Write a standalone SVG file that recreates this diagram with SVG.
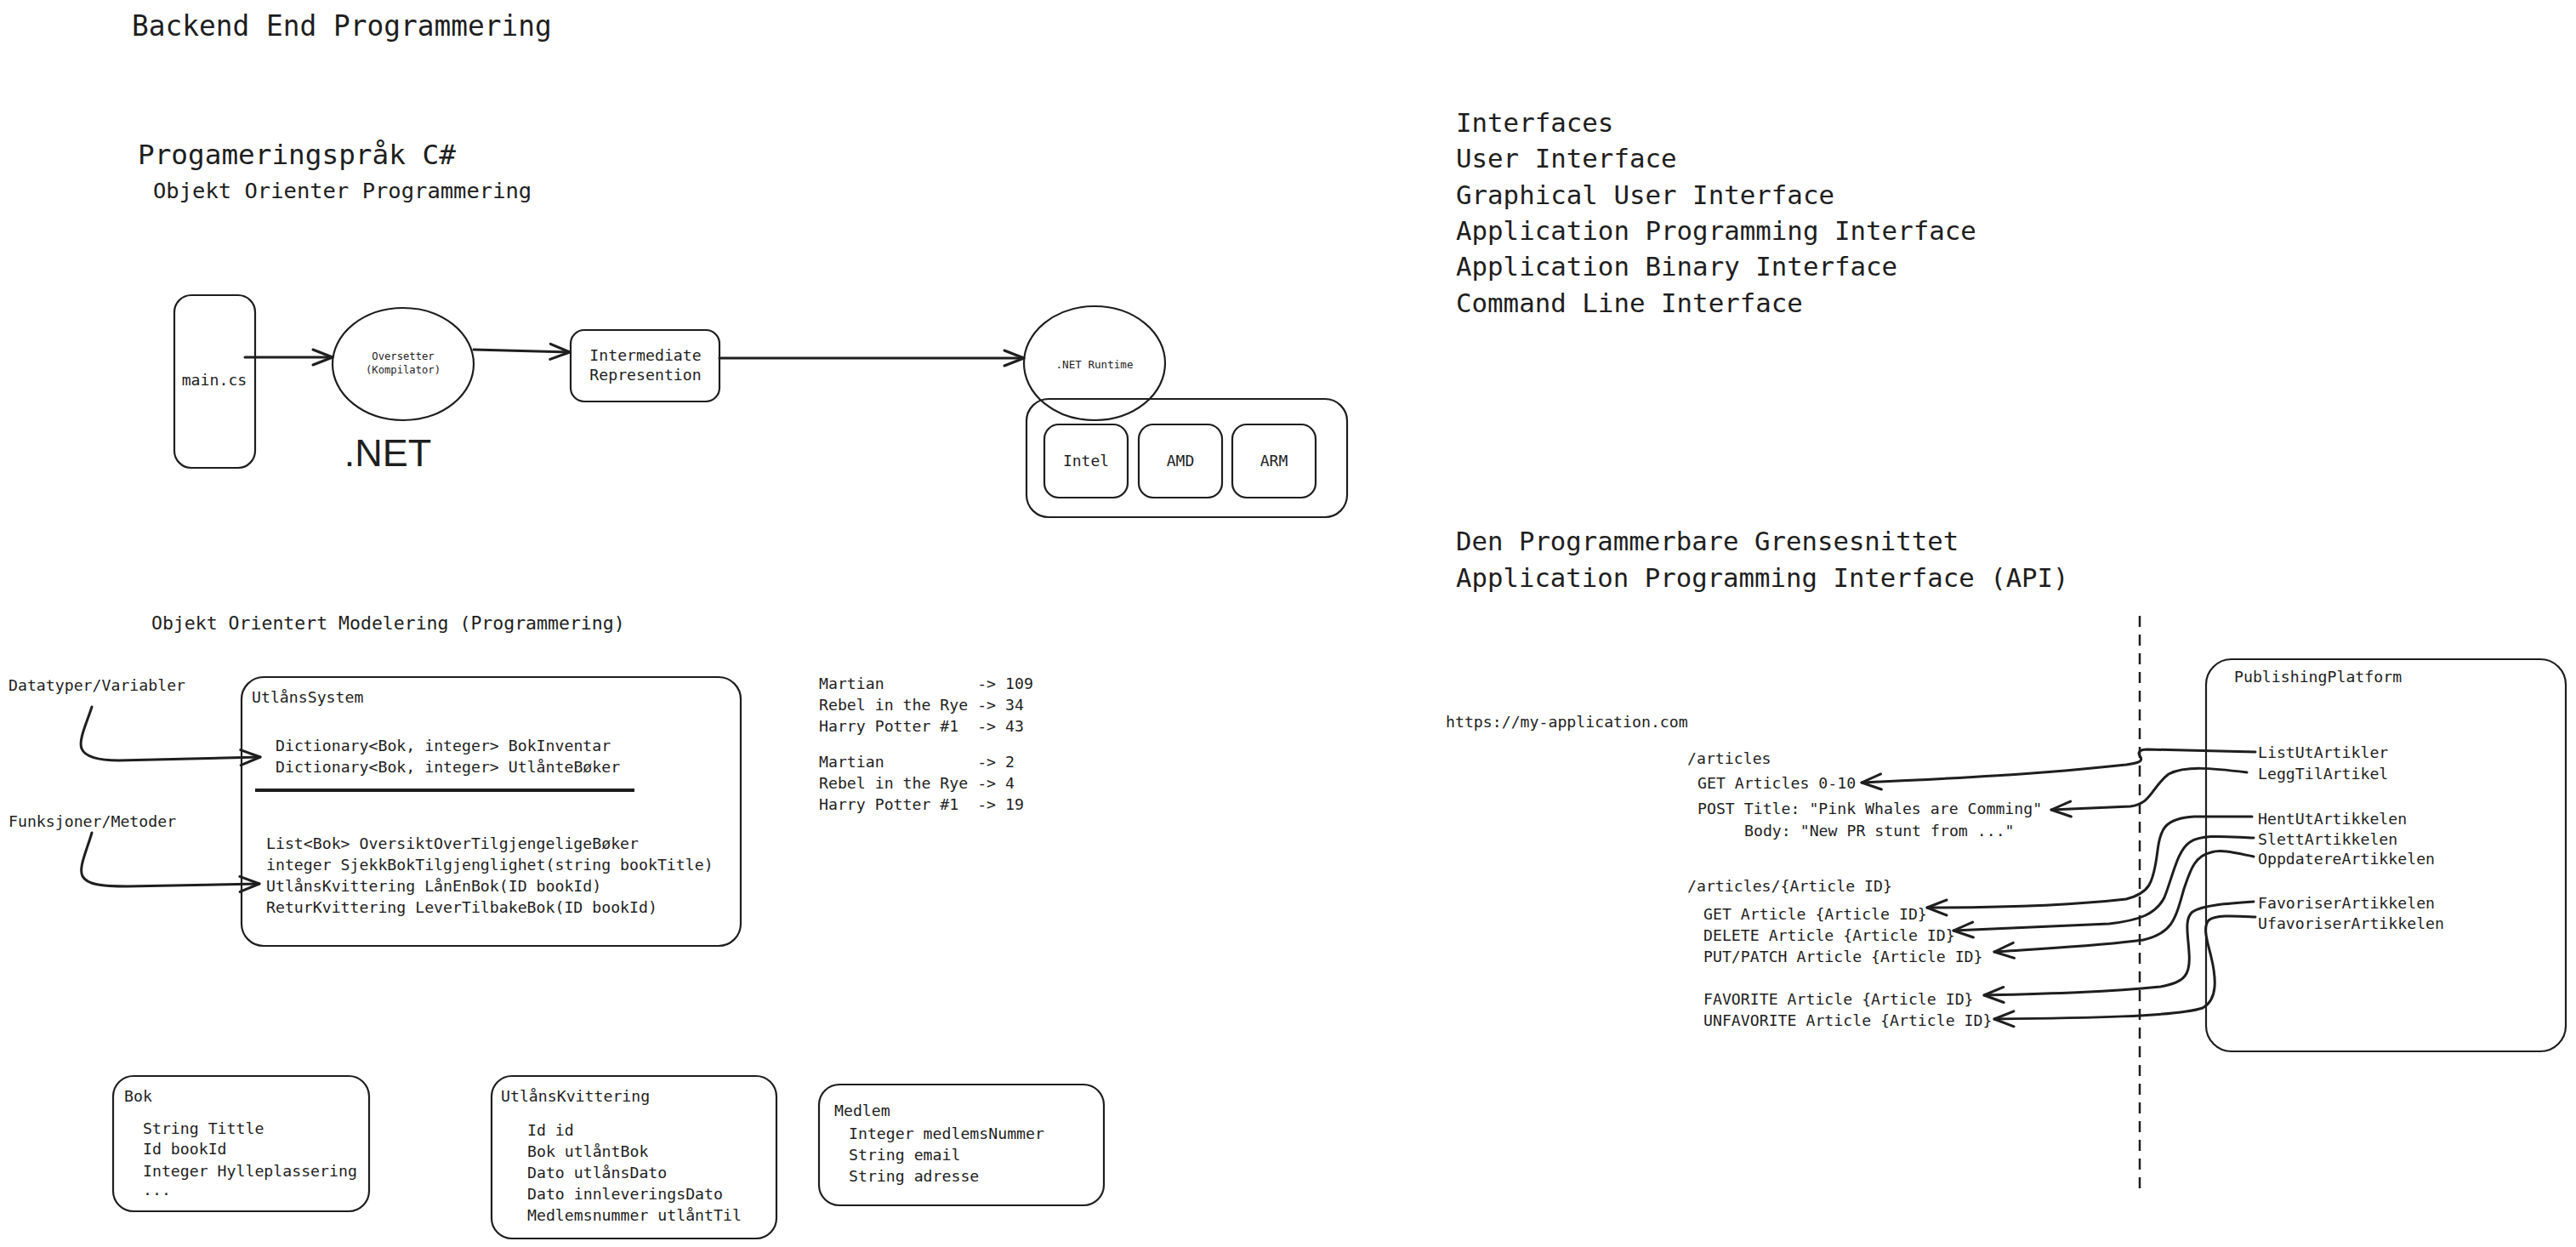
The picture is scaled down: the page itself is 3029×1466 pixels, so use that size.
<svg xmlns="http://www.w3.org/2000/svg" width="3029" height="1466" viewBox="0 0 3029 1466">
<style>
.t{font-family:"DejaVu Sans Mono","Liberation Mono",monospace;fill:#1e1e1e}
.s18{font-size:18.2px}
.box{fill:none;stroke:#1e1e1e;stroke-width:2.2}
.con{fill:none;stroke:#1e1e1e;stroke-width:3;stroke-linecap:round;stroke-linejoin:round}
.dash{fill:none;stroke:#1e1e1e;stroke-width:2.5;stroke-dasharray:13 9}
.mid{text-anchor:middle}
</style>
<defs>
<marker id="ah" markerUnits="userSpaceOnUse" markerWidth="40" markerHeight="40" refX="0" refY="0" viewBox="-30 -20 40 40" orient="auto" overflow="visible">
<path d="M-23,-9 L0,0 L-23,9" fill="none" stroke="#1e1e1e" stroke-width="3" stroke-linecap="round" stroke-linejoin="round"/>
</marker>
</defs>
<rect width="3029" height="1466" fill="#ffffff"/>

<g id="titles">
<text class="t" x="155" y="42" font-size="32.8">Backend End Programmering</text>
<text class="t" x="162" y="193" font-size="32.7">Progameringspråk C#</text>
<text class="t" x="180" y="233" font-size="25.5">Objekt Orienter Programmering</text>
<text class="t" x="178" y="740" font-size="21.5">Objekt Orientert Modelering (Programmering)</text>
<text class="t" x="10" y="812" font-size="18.2">Datatyper/Variabler</text>
<text class="t" x="10" y="972" font-size="18.2">Funksjoner/Metoder</text>
</g>

<g id="interfaces">
<text class="t" x="1712" y="155" font-size="30.8">Interfaces</text>
<text class="t" x="1712" y="197" font-size="30.8">User Interface</text>
<text class="t" x="1712" y="240" font-size="30.8">Graphical User Interface</text>
<text class="t" x="1712" y="282" font-size="30.8">Application Programming Interface</text>
<text class="t" x="1712" y="324" font-size="30.8">Application Binary Interface</text>
<text class="t" x="1712" y="367" font-size="30.8">Command Line Interface</text>
<text class="t" x="1712" y="647" font-size="30.7">Den Programmerbare Grensesnittet</text>
<text class="t" x="1712" y="690" font-size="30.7">Application Programming Interface (API)</text>
</g>

<g id="main-cs">
<rect class="box" x="205" y="347" width="95" height="203" rx="20"/>
<text class="t s18 mid" x="252" y="453">main.cs</text>
</g>
<g id="oversetter">
<ellipse class="box" cx="474" cy="428" rx="83" ry="66"/>
<text class="t mid" x="474" y="423" font-size="12.2">Oversetter</text>
<text class="t mid" x="474" y="439" font-size="12.2">(Kompilator)</text>
</g>
<g id="dotnet-label">
<text x="456" y="548" font-family="Liberation Sans, Arial, sans-serif" font-size="45" fill="#1e1e1e" text-anchor="middle">.NET</text>
</g>
<g id="intermediate">
<rect class="box" x="671" y="388" width="175" height="84" rx="16"/>
<text class="t s18 mid" x="759" y="424">Intermediate</text>
<text class="t s18 mid" x="759" y="447">Represention</text>
</g>
<g id="runtime">
<ellipse class="box" cx="1287" cy="427" rx="83" ry="67"/>
<text class="t mid" x="1287" y="433" font-size="12.6">.NET Runtime</text>
</g>
<g id="cpu-container">
<rect class="box" x="1207" y="469" width="377" height="139" rx="26"/>
</g>
<g id="intel">
<rect class="box" x="1228" y="499" width="98" height="86" rx="17"/>
<text class="t mid" x="1277" y="548" font-size="18">Intel</text>
</g>
<g id="amd">
<rect class="box" x="1339" y="499" width="98" height="86" rx="17"/>
<text class="t mid" x="1388" y="548" font-size="18">AMD</text>
</g>
<g id="arm">
<rect class="box" x="1449" y="499" width="98" height="86" rx="17"/>
<text class="t mid" x="1498" y="548" font-size="18">ARM</text>
</g>

<g id="utlanssystem">
<rect class="box" x="284" y="796" width="587" height="316" rx="26"/>
<text class="t s18" x="296" y="826">UtlånsSystem</text>
<text class="t s18" x="324" y="883">Dictionary&lt;Bok, integer&gt; BokInventar</text>
<text class="t s18" x="324" y="908">Dictionary&lt;Bok, integer&gt; UtlånteBøker</text>
<line x1="300" y1="929" x2="746" y2="929" stroke="#1e1e1e" stroke-width="4"/>
<text class="t s18" x="313" y="998">List&lt;Bok&gt; OversiktOverTilgjengeligeBøker</text>
<text class="t s18" x="313" y="1023">integer SjekkBokTilgjenglighet(string bookTitle)</text>
<text class="t s18" x="313" y="1048">UtlånsKvittering LånEnBok(ID bookId)</text>
<text class="t s18" x="313" y="1073">ReturKvittering LeverTilbakeBok(ID bookId)</text>
</g>

<g id="book-table">
<text class="t s18" x="963" y="810" xml:space="preserve">Martian          -&gt; 109</text>
<text class="t s18" x="963" y="835" xml:space="preserve">Rebel in the Rye -&gt; 34</text>
<text class="t s18" x="963" y="860" xml:space="preserve">Harry Potter #1  -&gt; 43</text>
<text class="t s18" x="963" y="902" xml:space="preserve">Martian          -&gt; 2</text>
<text class="t s18" x="963" y="927" xml:space="preserve">Rebel in the Rye -&gt; 4</text>
<text class="t s18" x="963" y="952" xml:space="preserve">Harry Potter #1  -&gt; 19</text>
</g>

<g id="bok">
<rect class="box" x="133" y="1265" width="301" height="159" rx="24"/>
<text class="t s18" x="146" y="1295">Bok</text>
<text class="t s18" x="168" y="1333">String Tittle</text>
<text class="t s18" x="168" y="1357">Id bookId</text>
<text class="t s18" x="168" y="1383">Integer Hylleplassering</text>
<text class="t s18" x="168" y="1405">...</text>
</g>
<g id="utlanskvittering">
<rect class="box" x="578" y="1265" width="335" height="191" rx="24"/>
<text class="t s18" x="589" y="1295">UtlånsKvittering</text>
<text class="t s18" x="620" y="1335">Id id</text>
<text class="t s18" x="620" y="1360">Bok utlåntBok</text>
<text class="t s18" x="620" y="1385">Dato utlånsDato</text>
<text class="t s18" x="620" y="1410">Dato innleveringsDato</text>
<text class="t s18" x="620" y="1435">Medlemsnummer utlåntTil</text>
</g>
<g id="medlem">
<rect class="box" x="963" y="1275" width="335" height="142" rx="24"/>
<text class="t s18" x="981" y="1312">Medlem</text>
<text class="t s18" x="998" y="1339">Integer medlemsNummer</text>
<text class="t s18" x="998" y="1364">String email</text>
<text class="t s18" x="998" y="1389">String adresse</text>
</g>

<g id="api-endpoints">
<text class="t s18" x="1700" y="855">https://my-application.com</text>
<text class="t s18" x="1984" y="898">/articles</text>
<text class="t s18" x="1996" y="927">GET Articles 0-10</text>
<text class="t s18" x="1996" y="957">POST Title: "Pink Whales are Comming"</text>
<text class="t s18" x="2051" y="983">Body: "New PR stunt from ..."</text>
<text class="t s18" x="1984" y="1048">/articles/{Article ID}</text>
<text class="t s18" x="2003" y="1081">GET Article {Article ID}</text>
<text class="t s18" x="2003" y="1106">DELETE Article {Article ID}</text>
<text class="t s18" x="2003" y="1131">PUT/PATCH Article {Article ID}</text>
<text class="t s18" x="2003" y="1181">FAVORITE Article {Article ID}</text>
<text class="t s18" x="2003" y="1206">UNFAVORITE Article {Article ID}</text>
</g>

<g id="publishing-platform">
<rect class="box" x="2594" y="775" width="423" height="461" rx="30"/>
<text class="t s18" x="2627" y="802">PublishingPlatform</text>
<text class="t s18" x="2655" y="891">ListUtArtikler</text>
<text class="t s18" x="2655" y="916">LeggTilArtikel</text>
<text class="t s18" x="2655" y="969">HentUtArtikkelen</text>
<text class="t s18" x="2655" y="993">SlettArtikkelen</text>
<text class="t s18" x="2655" y="1016">OppdatereArtikkelen</text>
<text class="t s18" x="2655" y="1068">FavoriserArtikkelen</text>
<text class="t s18" x="2655" y="1092">UfavoriserArtikkelen</text>
</g>

<g id="connectors">
<line class="dash" x1="2516" y1="724" x2="2516" y2="1397"/>
<path class="con" d="M288,420 L391,420" marker-end="url(#ah)"/>
<path class="con" d="M557,411 L670,414" marker-end="url(#ah)"/>
<path class="con" d="M846,421 L1204,421" marker-end="url(#ah)"/>
<path class="con" d="M108,831 C102,850 92,870 96,880 C100,890 115,894 140,894 L306,890" marker-end="url(#ah)"/>
<path class="con" d="M108,979 C102,1000 92,1020 97,1030 C102,1040 120,1042 150,1042 L305,1039" marker-end="url(#ah)"/>
<path class="con" d="M2652,884 L2525,881 C2515,881 2513,885 2517,890 C2520,896 2512,897 2500,899 C2400,910 2300,915 2189,920" marker-end="url(#ah)"/>
<path class="con" d="M2642,908 C2600,903 2570,900 2550,910 C2530,925 2530,945 2505,948 L2412,952" marker-end="url(#ah)"/>
<path class="con" d="M2648,960 L2580,960 C2545,962 2540,975 2537,1000 C2532,1040 2527,1050 2500,1057 C2430,1065 2350,1067 2266,1067" marker-end="url(#ah)"/>
<path class="con" d="M2650,985 C2620,984 2590,980 2575,990 C2560,1000 2555,1030 2545,1055 C2535,1075 2515,1082 2480,1086 L2297,1094" marker-end="url(#ah)"/>
<path class="con" d="M2650,1007 C2630,1003 2612,998 2600,1002 C2580,1006 2575,1025 2568,1045 C2558,1080 2555,1097 2520,1105 C2470,1112 2400,1115 2345,1119" marker-end="url(#ah)"/>
<path class="con" d="M2650,1060 C2620,1062 2590,1064 2578,1072 C2568,1080 2573,1100 2574,1120 C2576,1145 2570,1155 2540,1160 C2480,1166 2420,1168 2333,1170" marker-end="url(#ah)"/>
<path class="con" d="M2652,1078 C2630,1077 2605,1075 2597,1082 C2590,1090 2595,1105 2600,1125 C2606,1150 2608,1175 2590,1185 C2560,1195 2450,1197 2345,1198" marker-end="url(#ah)"/>
</g>
</svg>
